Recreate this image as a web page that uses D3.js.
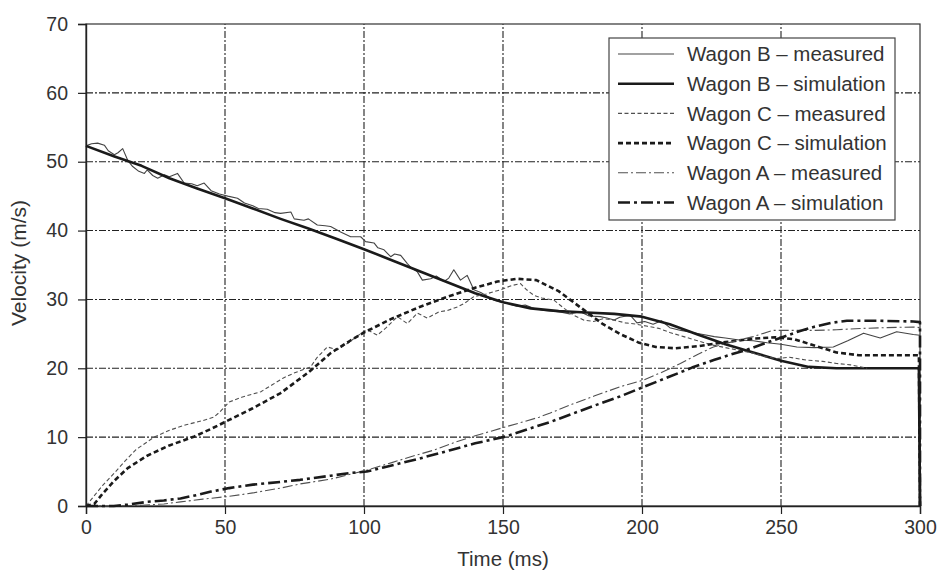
<!DOCTYPE html>
<html>
<head>
<meta charset="utf-8">
<script src="https://cdn.jsdelivr.net/npm/d3@7/dist/d3.min.js"></script>
<style>
  html, body { margin: 0; padding: 0; background: #fff; }
  svg { display: block; font-family: "Liberation Sans", Arial, Helvetica, sans-serif; }
</style>
</head>
<body>
<svg id="chart" width="938" height="574"></svg>
<script>
// Axis ticks
const xTicks = [0, 50, 100, 150, 200, 250, 300];
const yTicks = [0, 10, 20, 30, 40, 50, 60, 70];

// Velocity traces: [time (ms), velocity (m/s)]
const wagonBMeasured = [
  [0,52.3],[2,52.6],[4.2,52.7],[6.6,52.4],[8,51.6],[10.2,51.0],[11.5,51.3],[13.2,51.9],[15,50.2],[16.8,49.3],
  [19,48.6],[21,48.3],[22,48.8],[24,48.0],[25.8,47.6],[28.2,48.1],[30,47.8],[32.9,48.3],[35.3,46.9],[38,46.8],
  [40,46.5],[42.5,46.9],[45,45.8],[48,45.3],[51,45.0],[54.5,44.7],[57,44.0],[60,43.6],[62,43.2],[65.2,43.1],
  [68,42.6],[70,42.5],[73.7,42.7],[74.9,41.7],[78.4,41.5],[80,41.7],[83.2,40.8],[86,40.7],[88,40.6],[91.6,39.8],
  [95.2,39.1],[98.8,39.1],[100.6,38.4],[103.6,38.2],[105,37.5],[107.2,37.2],[109.6,36.2],[111,36.6],[113.2,36.4],
  [115.6,35.2],[117,34.6],[119.2,34.0],[121,32.8],[124,33.0],[126,33.4],[128.8,32.6],[130.5,33.1],[132.3,34.3],
  [134.7,32.8],[137.1,33.5],[139.5,31.4],[142,31.0],[146.7,29.9],[151.5,29.4],[155,29.0],[158,29.2],[161,28.7],
  [165,28.4],[170,28.2],[174,27.9],[177.8,28.2],[181,27.6],[185,27.5],[187.4,27.3],[190,27.0],[192,27.4],
  [195.8,27.7],[198.2,26.6],[201,26.8],[204,26.4],[207,26.9],[210,25.9],[214,25.5],[218,25.2],[222,24.9],
  [226,24.6],[230,24.4],[235,24.1],[240,24.0],[245,23.7],[250,23.5],[255.7,23.1],[262,23.0],[268.8,23.1],
  [274,24.0],[279.7,25.1],[285.7,24.4],[291.6,25.3],[297.6,24.9],[300,24.8]
];
const wagonBSimulation = [
  [0,52.3],[10,50.8],[20,49.4],[30,47.6],[40,46.1],[50,44.7],[60,43.2],[70,41.7],[80,40.3],[90,38.8],
  [100,37.3],[110,35.7],[120,34.1],[130,32.5],[140,30.9],[150,29.6],[160,28.7],[170,28.3],[180,28.1],[190,27.9],
  [200,27.5],[210,26.4],[220,24.9],[230,23.5],[240,22.3],[250,21.1],[260,20.2],[270,20.0],[299.6,20.0],[300,0]
];
const wagonCMeasured = [
  [0,0],[3,1.5],[6,3.0],[10.2,4.8],[14,6.5],[18,8.2],[24.5,10.0],[30,11.0],[36,11.8],[42,12.4],[46,12.9],
  [48,13.6],[51.5,15.1],[56,15.8],[62.9,16.6],[67,17.6],[71,18.6],[74.8,19.3],[78,19.8],[80.8,20.2],[83,21.5],
  [86.8,23.1],[90.4,22.7],[94,23.6],[98,24.8],[101.2,25.6],[104.8,24.8],[108,25.9],[112,27.5],[115.6,26.5],
  [119.2,28.0],[122.8,27.3],[127,28.2],[130,28.4],[133.6,28.9],[136,29.4],[139.5,30.4],[144,30.8],[149.1,31.4],
  [153,32.0],[156.3,32.3],[158.5,31.4],[161.1,30.6],[164,30.2],[168.3,29.9],[172,28.7],[175.5,27.7],[179,27.0],
  [182.6,26.8],[186,27.2],[189.8,27.0],[194,26.6],[198,26.4],[202,26.1],[206,25.8],[210,25.2],[215,24.6],
  [220,24.0],[225,23.4],[230,23.0],[235,22.6],[240,22.2],[244,21.7],[248.5,21.4],[253,21.6],[259,21.2],
  [265,21.0],[270,20.7],[275,20.5],[281,20.0]
];
const wagonCSimulation = [
  [0,0],[3,0.3],[6,1.8],[10,3.6],[15,5.5],[22,7.3],[30,8.8],[39,10.1],[45,11.2],[51.5,12.5],[60,14.2],
  [70,16.4],[80,19.4],[88,22.2],[95,24.0],[100,25.2],[110,27.2],[120,28.9],[130,30.4],[140,31.7],[148,32.6],
  [155,33.0],[162,32.8],[170,31.2],[180,28.2],[186,26.4],[192,25.0],[199,23.7],[205,23.1],[212,22.9],[220,23.2],
  [230,23.8],[240,24.3],[248,24.5],[255,24.2],[262,23.3],[270,22.3],[278,21.9],[290,21.9],[299.6,21.9],[300,0]
];
const wagonAMeasured = [
  [0,0],[10,0],[20,0.1],[28,0.3],[34,0.6],[42,1.0],[51.5,1.4],[60,1.9],[70,2.6],[77,3.2],[88,3.9],[95,4.6],
  [101,5.2],[110,6.3],[118,7.3],[125,8.1],[133,9.3],[140,10.2],[146,10.9],[151,11.5],[158,12.3],[163,12.9],
  [167,13.5],[175,14.8],[183,16.0],[192,17.3],[200.6,18.3],[207,19.4],[213.8,20.7],[220,22.0],[225.7,23.1],
  [232,23.8],[240,24.6],[247,25.5],[255,25.5],[262,25.5],[270,25.6],[279.6,25.8],[288,25.9],[297.6,26.0],[300,25.9]
];
const wagonASimulation = [
  [0,0],[10,0],[15,0.2],[22,0.6],[28,0.8],[34,1.1],[40,1.6],[45,2.1],[51.5,2.6],[60,3.1],[70,3.5],[77,3.8],
  [88,4.4],[95,4.8],[101,5.0],[107,5.6],[113,6.2],[120,6.9],[131,8.1],[140,9.1],[151,10.1],[160,11.3],[167,12.2],
  [175,13.4],[183,14.6],[192,15.9],[200.6,17.3],[210,18.8],[218,20.1],[225.8,21.2],[232,22.0],[237.8,22.7],
  [244,23.6],[249.7,24.4],[256,25.3],[261.7,26.0],[268,26.6],[273.7,26.9],[285,26.9],[297.6,26.8],[300,26.7],[300,0]
];

const seriesNames = [
  "Wagon B \u2013 measured", "Wagon B \u2013 simulation",
  "Wagon C \u2013 measured", "Wagon C \u2013 simulation",
  "Wagon A \u2013 measured", "Wagon A \u2013 simulation"
];
const seriesData = [wagonBMeasured, wagonBSimulation, wagonCMeasured, wagonCSimulation, wagonAMeasured, wagonASimulation];
const seriesStyle = [
  { color: "#444444", width: 1.1, dash: null },
  { color: "#1a1a1a", width: 2.6, dash: null },
  { color: "#505050", width: 1.1, dash: "4,2.5" },
  { color: "#1a1a1a", width: 2.6, dash: "5,3" },
  { color: "#505050", width: 1.1, dash: "10,3,2,3" },
  { color: "#1a1a1a", width: 2.6, dash: "12,4,3,4" }
];

const svg = d3.select("#chart");
const margin = { left: 86, right: 18, top: 24, bottom: 68 };
const W = 938, H = 574;
const x = d3.scaleLinear().domain([0, 300]).range([margin.left, W - margin.right]);
const y = d3.scaleLinear().domain([0, 70]).range([H - margin.bottom, margin.top]);

// Grid (dash-dot)
const grid = svg.append("g").attr("stroke", "#222").attr("stroke-width", 1.1).attr("stroke-dasharray", "7,2,2,2");
grid.selectAll("line.gx").data(xTicks.slice(1, -1)).join("line")
  .attr("x1", d => x(d)).attr("x2", d => x(d)).attr("y1", y(0)).attr("y2", y(70));
grid.selectAll("line.gy").data(yTicks.slice(1, -1)).join("line")
  .attr("x1", x(0)).attr("x2", x(300)).attr("y1", d => y(d)).attr("y2", d => y(d));

// Frame
svg.append("rect").attr("x", x(0)).attr("y", y(70)).attr("width", x(300) - x(0)).attr("height", y(0) - y(70))
  .attr("fill", "none").attr("stroke", "#333").attr("stroke-width", 1.2);

// Axes
const xAxis = svg.append("g").attr("transform", `translate(0,${y(0)})`)
  .call(d3.axisBottom(x).tickValues(xTicks).tickSize(8).tickPadding(6));
const yAxis = svg.append("g").attr("transform", `translate(${x(0)},0)`)
  .call(d3.axisLeft(y).tickValues(yTicks).tickSize(8).tickPadding(10));
[xAxis, yAxis].forEach(a => {
  a.select(".domain").attr("stroke", "#222").attr("stroke-width", 1.4);
  a.selectAll(".tick line").attr("stroke", "#222").attr("stroke-width", 1.2);
  a.selectAll(".tick text").attr("fill", "#333").style("font-size", "19.5px")
    .style("font-family", "'Liberation Sans', Arial, sans-serif");
});

// Curves
const line = d3.line().x(d => x(d[0])).y(d => y(d[1]));
const plot = svg.append("g");
seriesData.forEach((data, i) => {
  const s = seriesStyle[i];
  plot.append("path").datum(data).attr("d", line)
    .attr("fill", "none").attr("stroke", s.color).attr("stroke-width", s.width)
    .attr("stroke-dasharray", s.dash).attr("stroke-linejoin", "round");
});

// Axis titles
svg.append("text").attr("x", (x(0) + x(300)) / 2).attr("y", 566).attr("text-anchor", "middle")
  .attr("fill", "#333").style("font-size", "20.5px").text("Time (ms)");
svg.append("text").attr("transform", `translate(26,263) rotate(-90)`)
  .attr("text-anchor", "middle").attr("fill", "#333").style("font-size", "21px").text("Velocity (m/s)");

// Legend
const lg = svg.append("g").attr("transform", "translate(609,38)");
lg.append("rect").attr("width", 286).attr("height", 182).attr("fill", "#fff")
  .attr("stroke", "#444").attr("stroke-width", 1.2);
seriesNames.forEach((name, i) => {
  const s = seriesStyle[i];
  const cy = 16 + i * 29.7;
  lg.append("line").attr("x1", 9).attr("x2", 65).attr("y1", cy).attr("y2", cy)
    .attr("stroke", s.color).attr("stroke-width", s.width).attr("stroke-dasharray", s.dash);
  lg.append("text").attr("x", 78).attr("y", cy).attr("dy", "0.35em")
    .attr("fill", "#333").style("font-size", "20.5px").text(name);
});
</script>
</body>
</html>
